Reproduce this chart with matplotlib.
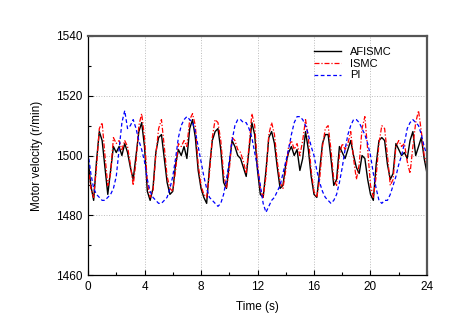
import numpy as np
import matplotlib
matplotlib.use('Agg')
import matplotlib.pyplot as plt
from matplotlib.ticker import MultipleLocator

plt.rcParams['font.family'] = ['Liberation Sans', 'DejaVu Sans']

# sampling instants, 0.2 s apart
t = np.arange(121) * 0.2

afismc = [1499, 1490, 1485, 1498, 1508, 1505, 1496, 1487, 1495, 1503,
          1501, 1503, 1500, 1504, 1501, 1496, 1492, 1500, 1508, 1511,
          1503, 1488, 1485, 1489, 1501, 1506, 1507, 1499, 1491, 1487,
          1488, 1497, 1502, 1500, 1503, 1499, 1509, 1512, 1506, 1495,
          1489, 1486, 1484, 1496, 1505, 1508, 1509, 1502, 1491, 1489,
          1497, 1505, 1503, 1500, 1499, 1496, 1493, 1502, 1511, 1507,
          1495, 1487, 1486, 1495, 1506, 1508, 1504, 1496, 1489, 1490,
          1497, 1501, 1503, 1500, 1502, 1495, 1499, 1508, 1502, 1493,
          1487, 1486, 1495, 1504, 1507, 1507, 1499, 1490, 1492, 1503,
          1501, 1499, 1502, 1505, 1500, 1496, 1494, 1500, 1499, 1492,
          1487, 1485, 1497, 1505, 1506, 1505, 1497, 1492, 1494, 1504,
          1502, 1500, 1501, 1499, 1505, 1508, 1500, 1503, 1506, 1499,
          1494]

ismc = [1497, 1489, 1486, 1496, 1509, 1511, 1500, 1490, 1494, 1506,
        1504, 1505, 1502, 1505, 1503, 1497, 1490, 1498, 1510, 1514,
        1506, 1491, 1486, 1488, 1500, 1509, 1512, 1503, 1493, 1489,
        1488, 1495, 1504, 1503, 1505, 1503, 1512, 1514, 1510, 1497,
        1490, 1487, 1486, 1494, 1506, 1512, 1511, 1505, 1494, 1489,
        1495, 1506, 1505, 1502, 1501, 1498, 1494, 1503, 1514, 1510,
        1497, 1489, 1486, 1493, 1507, 1511, 1507, 1498, 1491, 1489,
        1495, 1503, 1505, 1502, 1504, 1500, 1505, 1512, 1506, 1495,
        1488, 1486, 1492, 1503, 1509, 1510, 1502, 1492, 1490, 1500,
        1504, 1502, 1504, 1508, 1499, 1492, 1497, 1509, 1513, 1502,
        1490, 1486, 1493, 1504, 1510, 1509, 1500, 1490, 1492, 1503,
        1505, 1503, 1504, 1498, 1494, 1503, 1511, 1515, 1508, 1500,
        1497]

pi = [1501, 1494, 1489, 1487, 1486, 1485, 1485, 1486, 1487, 1489,
      1493, 1502, 1511, 1515, 1509, 1510, 1512, 1509, 1505, 1502,
      1498, 1492, 1488, 1486, 1485, 1484, 1484, 1485, 1486, 1489,
      1493, 1499, 1506, 1510, 1512, 1513, 1512, 1511, 1508, 1503,
      1498, 1493, 1489, 1486, 1485, 1484, 1483, 1484, 1487, 1492,
      1498, 1505, 1510, 1512, 1512, 1511, 1511, 1509, 1506, 1501,
      1496, 1490, 1484, 1481, 1483, 1485, 1486, 1488, 1490, 1494,
      1498, 1502, 1507, 1511, 1513, 1513, 1512, 1510, 1507, 1503,
      1500, 1495, 1491, 1488, 1486, 1485, 1484, 1485, 1487, 1491,
      1496, 1502, 1507, 1510, 1512, 1512, 1511, 1509, 1507, 1504,
      1500, 1494, 1489, 1485, 1484, 1485, 1485, 1487, 1490, 1493,
      1497, 1500, 1504, 1509, 1511, 1512, 1511, 1510, 1507, 1503,
      1500]

fig = plt.figure(figsize=(4.49, 3.26), dpi=100)
ax = fig.add_axes([0.196, 0.156, 0.755, 0.734])

ax.plot(t, afismc, color='black', lw=1.0, label='AFISMC')
ax.plot(t, ismc, color='red', lw=0.9, dashes=(4, 1.5, 1, 1.5), label='ISMC')
ax.plot(t, pi, color='blue', lw=0.9, dashes=(3, 2), label='PI')

ax.set_xlim(0, 24)
ax.set_ylim(1460, 1540)
ax.xaxis.set_major_locator(MultipleLocator(4))
ax.xaxis.set_minor_locator(MultipleLocator(2))
ax.yaxis.set_major_locator(MultipleLocator(20))
ax.yaxis.set_minor_locator(MultipleLocator(10))
ax.tick_params(which='both', direction='in', labelsize=8.5, pad=4)
ax.tick_params(which='major', length=3.5, width=0.8)
ax.tick_params(which='minor', length=2, width=0.8)

ax.grid(True, which='major', ls=':', color='#bbbbbb', lw=0.7)
ax.set_axisbelow(True)

for side in ['left', 'bottom']:
    ax.spines[side].set_linewidth(0.9)
    ax.spines[side].set_color('black')
for side in ['top', 'right']:
    ax.spines[side].set_linewidth(1.6)
    ax.spines[side].set_color('#555555')

ax.set_xlabel('Time (s)', fontsize=8.5, labelpad=6)
ax.set_ylabel('Motor velocity (r/min)', fontsize=8.5, labelpad=9)

ax.legend(loc='upper right', bbox_to_anchor=(0.925, 0.995), frameon=False,
          fontsize=8, handlelength=2.4, labelspacing=0.15)

fig.savefig('out.png', dpi=100)
